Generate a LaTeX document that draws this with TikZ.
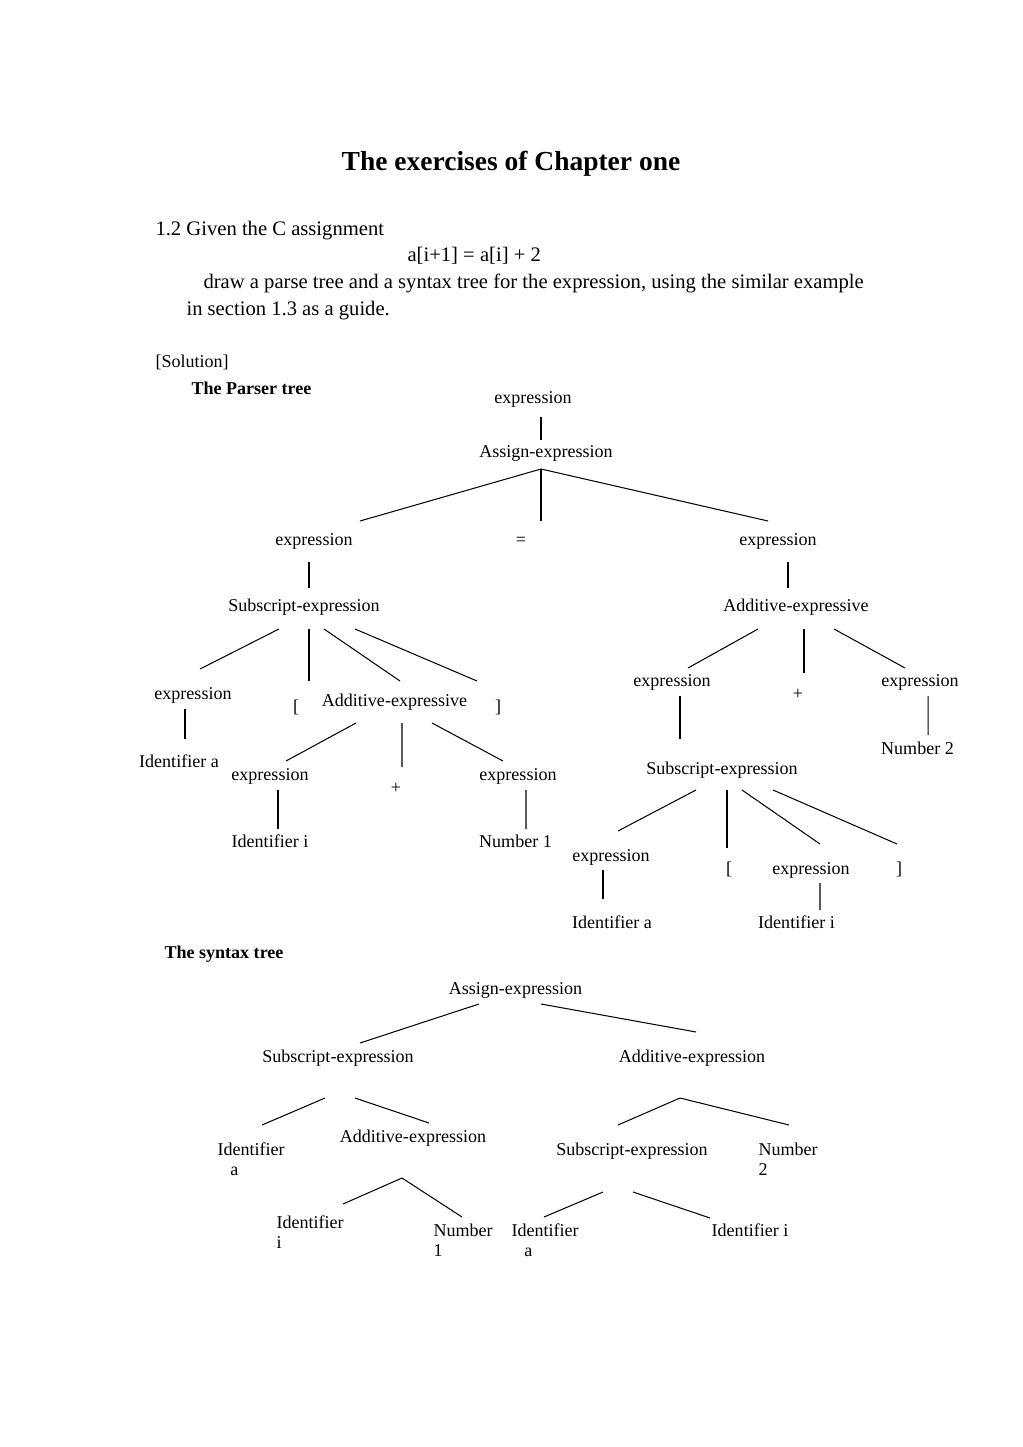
\documentclass[tikz,border=0pt]{standalone}
\usepackage{fontspec}
\setmainfont{Liberation Serif}
\usetikzlibrary{calc}

\begin{document}
\begin{tikzpicture}[x=0.5819pt,y=-0.5819pt,semithick,
  word/.style={font=\fontsize{10.5pt}{11.6pt}\selectfont,inner sep=0pt,anchor=base},
  wrap/.style={word,anchor=base west,align=left},
  body/.style={font=\fontsize{12pt}{14pt}\selectfont,inner sep=0pt,anchor=base west}]
  \useasboundingbox (0,0) rectangle (1023,1447);

  % heading and question
  \node[font=\fontsize{16pt}{19pt}\selectfont\bfseries,inner sep=0pt,anchor=base] (title) at (511,171) {The exercises of Chapter one};
  \node[body] (q1) at (155,236) {1.2 Given the C assignment};
  \node[body] (q2) at (407,262) {a[i+1] = a[i] + 2};
  \node[body] (q3) at (203,289) {draw a parse tree and a syntax tree for the expression, using the similar example};
  \node[body] (q4) at (186,316) {in section 1.3 as a guide.};
  \node[word,anchor=base west] (sol) at (155,368) {[Solution]};
  \node[word,anchor=base west,font=\fontsize{10.5pt}{11.6pt}\selectfont\bfseries] (ptitle) at (191,395) {The Parser tree};

  % parse tree
  \node[word] (top) at (533,404) {expression};
  \node[word] (asg) at (546,458) {Assign-expression};
  \node[word] (exl) at (314,545) {expression};
  \node[word] (eq) at (521,545) {=};
  \node[word] (exr) at (778,545) {expression};
  \node[word] (subl) at (304,611) {Subscript-expression};
  \node[word] (addr) at (796,611) {Additive-expressive};
  \node[word] (exll) at (193,699) {expression};
  \node[word] (lbl) at (296,712) {[};
  \node[word] (addl) at (394.5,706) {Additive-expressive};
  \node[word] (rbl) at (498,712) {]};
  \node[word] (exr1) at (672,686) {expression};
  \node[word] (plr) at (798,699) {+};
  \node[word] (exr2) at (920,686) {expression};
  \node[word] (ida) at (179,767) {Identifier a};
  \node[word] (num2) at (917.5,754) {Number 2};
  \node[word] (subr) at (722,774) {Subscript-expression};
  \node[word] (exl2) at (270,780) {expression};
  \node[word] (pll) at (396,793) {+};
  \node[word] (exl3) at (518,780) {expression};
  \node[word] (idi) at (270,847) {Identifier i};
  \node[word] (num1) at (515.5,847) {Number 1};
  \node[word] (exr3) at (611,861) {expression};
  \node[word] (lbr) at (729,874) {[};
  \node[word] (exr4) at (811,874) {expression};
  \node[word] (rbr) at (899,874) {]};
  \node[word] (idar) at (612,928) {Identifier a};
  \node[word] (idir) at (796.5,928) {Identifier i};

  \draw ($(top.base)+(8,13)$) -- ($(asg.base)+(-5,-18)$);
  \draw ($(asg.base)+(-5,11)$) -- ($(exl.base)+(46,-24)$);
  \draw ($(asg.base)+(-5,11)$) -- ($(eq.base)+(20,-24)$);
  \draw ($(asg.base)+(-5,11)$) -- ($(exr.base)+(-10,-24)$);
  \draw ($(exl.base)+(-5,17)$) -- ($(subl.base)+(5,-23)$);
  \draw ($(exr.base)+(10,17)$) -- ($(addr.base)+(-8,-23)$);
  \draw ($(subl.base)+(-25,18)$) -- ($(exll.base)+(7,-30)$);
  \draw ($(subl.base)+(5,18)$) -- ($(lbl.base)+(13,-31)$);
  \draw ($(subl.base)+(20,18)$) -- ($(addl.base)+(5.5,-25)$);
  \draw ($(subl.base)+(51,18)$) -- ($(rbl.base)+(-21,-31)$);
  \draw ($(exll.base)+(-8,10)$) -- ($(ida.base)+(6,-28)$);
  \draw ($(addl.base)+(-38.5,17)$) -- ($(exl2.base)+(16,-19)$);
  \draw ($(addl.base)+(7.5,17)$) -- ($(pll.base)+(6,-26)$);
  \draw ($(addl.base)+(37.5,17)$) -- ($(exl3.base)+(-15,-19)$);
  \draw ($(exl2.base)+(8,10)$) -- ($(idi.base)+(8,-18)$);
  \draw ($(exl3.base)+(8,10)$) -- ($(num1.base)+(10.5,-18)$);
  \draw ($(addr.base)+(-38,18)$) -- ($(exr1.base)+(16,-18)$);
  \draw ($(addr.base)+(8,18)$) -- ($(plr.base)+(6,-26)$);
  \draw ($(addr.base)+(38,18)$) -- ($(exr2.base)+(-15,-18)$);
  \draw ($(exr1.base)+(8,10)$) -- ($(subr.base)+(-42,-35)$);
  \draw ($(exr2.base)+(8,10)$) -- ($(num2.base)+(10.5,-19)$);
  \draw ($(subr.base)+(-26,16)$) -- ($(exr3.base)+(7,-30)$);
  \draw ($(subr.base)+(5,16)$) -- ($(lbr.base)+(-2,-26)$);
  \draw ($(subr.base)+(20,16)$) -- ($(exr4.base)+(9,-30)$);
  \draw ($(subr.base)+(51,16)$) -- ($(rbr.base)+(-2,-30)$);
  \draw ($(exr3.base)+(-8,9)$) -- ($(idar.base)+(-9,-29)$);
  \draw ($(exr4.base)+(9,9)$) -- ($(idir.base)+(23.5,-18)$);

  % syntax tree
  \node[word,anchor=base west,font=\fontsize{10.5pt}{11.6pt}\selectfont\bfseries] (stitle) at (164,958) {The syntax tree};
  \node[word] (sasg) at (515.5,994) {Assign-expression};
  \node[word] (ssub) at (338,1062) {Subscript-expression};
  \node[word] (sadd) at (692,1062) {Additive-expression};
  \node[wrap] (sida) at (217,1175) {Identifier\\\hspace*{7.5pt}a};
  \node[word] (sadd2) at (413,1142) {Additive-expression};
  \node[wrap] (sidi) at (276,1248) {Identifier\\i};
  \node[wrap] (snum1) at (433,1256) {Number\\1};
  \node[word] (ssub2) at (632,1155) {Subscript-expression};
  \node[wrap] (snum2) at (758,1175) {Number\\2};
  \node[wrap] (sida2) at (511,1256) {Identifier\\\hspace*{7.5pt}a};
  \node[word] (sidi2) at (750,1236) {Identifier i};

  \draw ($(sasg.base)+(-36.5,10)$) -- ($(ssub.base)+(22,-19)$);
  \draw ($(sasg.base)+(25.5,10)$) -- ($(sadd.base)+(4,-30)$);
  \draw ($(ssub.base)+(-13,36)$) -- ($(sida.base west)+(45,-50)$);
  \draw ($(ssub.base)+(17,36)$) -- ($(sadd2.base)+(16,-19)$);
  \draw ($(sadd2.base)+(-11,36)$) -- ($(sidi.base west)+(67,-44)$);
  \draw ($(sadd2.base)+(-11,36)$) -- ($(snum1.base west)+(29,-39)$);
  \draw ($(sadd.base)+(-12,36)$) -- ($(ssub2.base)+(-14,-30)$);
  \draw ($(sadd.base)+(-12,36)$) -- ($(snum2.base west)+(31,-50)$);
  \draw ($(ssub2.base)+(-29,37)$) -- ($(sida2.base west)+(33,-39)$);
  \draw ($(ssub2.base)+(1,37)$) -- ($(sidi2.base)+(-40,-18)$);
\end{tikzpicture}
\end{document}
